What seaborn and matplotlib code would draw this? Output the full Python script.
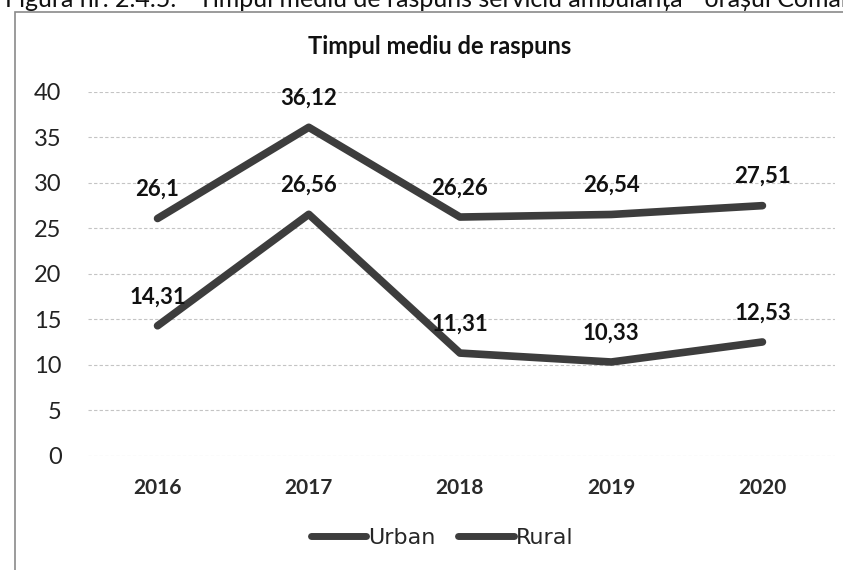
import pandas as pd
import numpy as np
import matplotlib
matplotlib.use("Agg")
import matplotlib.pyplot as plt
import seaborn as sns
from matplotlib.patches import Rectangle
from matplotlib.lines import Line2D

# --- data ---
years = ["2016", "2017", "2018", "2019", "2020"]
urban = [14.31, 26.56, 11.31, 10.33, 12.53]
rural = [26.1, 36.12, 26.26, 26.54, 27.51]
series = ["Urban", "Rural"]
y_ticks = [0, 5, 10, 15, 20, 25, 30, 35, 40]

title = "Timpul mediu de raspuns"
caption = "Figura nr. 2.4.5. - Timpul mediu de raspuns serviciu ambulanța - orașul Comănești"

df = pd.DataFrame({"An": years * 2,
                   "Serie": ["Urban"] * len(years) + ["Rural"] * len(years),
                   "Timp": urban + rural})
df["x"] = df.groupby("Serie").cumcount()

sns.set_style("white")
plt.rcParams["font.family"] = ["Lato", "DejaVu Sans"]

line_col = "#3d3d3d"
fig = plt.figure(figsize=(8.43, 5.70), dpi=100)
ax = fig.add_axes([88 / 843, 0.2, (835 - 88) / 843, 0.6386])

sns.lineplot(data=df, x="x", y="Timp", hue="Serie", hue_order=series,
             palette=[line_col, line_col], linewidth=5.5, ax=ax,
             legend=False, solid_capstyle="round")

for _, r in df.iterrows():
    ax.annotate(f"{r['Timp']:g}".replace(".", ","), (r["x"], r["Timp"]),
                xytext=(0, 29), textcoords="offset pixels", ha="center",
                va="center", fontsize=16, fontweight="bold", color="#111111")

ax.set_xlim(-0.46, len(years) - 1 + 0.48)
ax.set_ylim(0, 40)
ax.set_yticks(y_ticks)
ax.set_yticklabels([str(t) for t in y_ticks], fontsize=17, color="#222222")
ax.set_xticks(range(len(years)))
ax.set_xticklabels(years, fontsize=15, fontweight="bold", color="#2a2a2a")
ax.tick_params(axis="y", length=0, pad=19)
ax.tick_params(axis="x", length=0, pad=16)
ax.yaxis.grid(True, color="#c4c4c4", linewidth=0.8, linestyle=(0, (3, 2)))
ax.set_xlabel("")
ax.set_ylabel("")
for s in ax.spines.values():
    s.set_visible(False)

fig.text(440 / 843, 1 - 47 / 570, title, ha="center", va="center",
         fontsize=17, fontweight="bold", color="#111111")

handles = [Line2D([0], [0], color=line_col, lw=5, solid_capstyle="round") for _ in series]
fig.legend(handles, series, loc="center", bbox_to_anchor=(442 / 843, 1 - 538 / 570),
           ncol=2, frameon=False, handlelength=2.5, handletextpad=0.1,
           columnspacing=1.0, prop={"family": "DejaVu Sans", "size": 16})

# outer frame (cut off on the right and bottom in the scan)
fig.patches.append(Rectangle((15 / 843, -0.2), 1.2, 1.2 - 12 / 570,
                             transform=fig.transFigure, fill=False,
                             edgecolor="#8a8a8a", linewidth=1.2))

# page caption above the chart, cut off by the scan edges
fig.text(5 / 843, 1 - 7 / 570, caption, ha="left", va="baseline",
         fontsize=18, color="#111111")

fig.savefig("out.png", dpi=100)
